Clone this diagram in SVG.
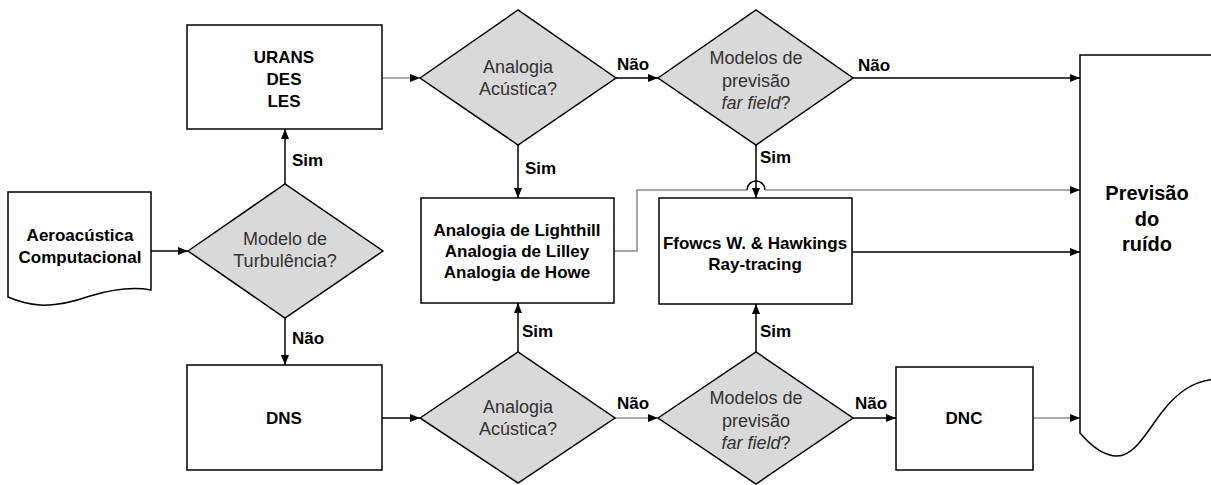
<svg xmlns="http://www.w3.org/2000/svg" width="1211" height="485" viewBox="0 0 1211 485">
<defs>
<style>
.box{fill:#fff;stroke:#000;stroke-width:1.5}
.dia{fill:#d9d9d9;stroke:#000;stroke-width:1.5}
.bt{font-family:"Liberation Sans",Arial,sans-serif;font-weight:bold;font-size:17px;fill:#000;text-anchor:middle}
.big{font-size:20px}
.dt{font-family:"Liberation Sans",Arial,sans-serif;font-size:18px;fill:#333;text-anchor:middle}
.lb{font-family:"Liberation Sans",Arial,sans-serif;font-weight:bold;font-size:17px;fill:#000}
.c{fill:none;stroke:#000;stroke-width:1.5}
.g{fill:none;stroke:#8c8c8c;stroke-width:1.5}
</style>
<marker id="ah" viewBox="0 0 10 8" refX="10" refY="4" markerWidth="10" markerHeight="8" orient="auto" markerUnits="userSpaceOnUse"><path d="M0,0 L10,4 L0,8 Z" fill="#000"/></marker>
</defs>

<g id="connectors">
<line class="c" x1="151" y1="251" x2="188" y2="251" marker-end="url(#ah)"/>
<line class="c" x1="285" y1="184" x2="285" y2="129" marker-end="url(#ah)"/>
<line class="c" x1="285" y1="318" x2="285" y2="365" marker-end="url(#ah)"/>
<line class="g" x1="382" y1="78" x2="420" y2="78" marker-end="url(#ah)"/>
<line class="c" x1="382" y1="418" x2="420" y2="418" marker-end="url(#ah)"/>
<line class="c" x1="518" y1="145" x2="518" y2="198" marker-end="url(#ah)"/>
<line class="c" x1="518" y1="352" x2="518" y2="303" marker-end="url(#ah)"/>
<line class="c" x1="616" y1="78" x2="658" y2="78" marker-end="url(#ah)"/>
<line class="g" x1="615" y1="418" x2="658" y2="418" marker-end="url(#ah)"/>
<line class="c" x1="756" y1="145" x2="756" y2="198" marker-end="url(#ah)"/>
<line class="c" x1="756" y1="352" x2="756" y2="304" marker-end="url(#ah)"/>
<line class="c" x1="853" y1="78" x2="1080" y2="78" marker-end="url(#ah)"/>
<line class="c" x1="853" y1="418" x2="896" y2="418" marker-end="url(#ah)"/>
<line class="c" x1="852" y1="252" x2="1080" y2="252" marker-end="url(#ah)"/>
<line class="g" x1="1033" y1="418" x2="1080" y2="418" marker-end="url(#ah)"/>
<path class="g" d="M614,251 H637 V190 H747"/>
<path class="c" d="M747,190 A9,9 0 0 1 765,190"/>
<line class="g" x1="765" y1="190" x2="1080" y2="190" marker-end="url(#ah)"/>
<text class="lb" x="292" y="166">Sim</text>
<text class="lb" x="292" y="344">Não</text>
<text class="lb" x="525" y="174">Sim</text>
<text class="lb" x="522" y="337">Sim</text>
<text class="lb" x="617" y="70">Não</text>
<text class="lb" x="617" y="409">Não</text>
<text class="lb" x="760" y="163">Sim</text>
<text class="lb" x="760" y="337">Sim</text>
<text class="lb" x="858" y="71">Não</text>
<text class="lb" x="855" y="409">Não</text>
</g>

<g id="aeroacustica">
<path class="box" d="M8,192 H151 V290 C130,286 110,290 90,296 C70,303 55,306 40,305 C25,304 15,300 8,297 Z"/>
<text class="bt" x="80" y="241">Aeroacústica</text>
<text class="bt" x="80" y="263">Computacional</text>
</g>

<g id="modelo-turbulencia">
<polygon class="dia" points="188,251 285,184 383,251 285,318"/>
<text class="dt" x="285" y="245">Modelo de</text>
<text class="dt" x="285" y="267">Turbulência?</text>
</g>

<g id="urans">
<rect class="box" x="187" y="25" width="195" height="104"/>
<text class="bt" x="284" y="63">URANS</text>
<text class="bt" x="284" y="85">DES</text>
<text class="bt" x="284" y="107">LES</text>
</g>

<g id="dns">
<rect class="box" x="187" y="365" width="195" height="105"/>
<text class="bt" x="284" y="424">DNS</text>
</g>

<g id="analogia-top">
<polygon class="dia" points="420,78 518,10 616,78 518,145"/>
<text class="dt" x="518" y="73">Analogia</text>
<text class="dt" x="518" y="95">Acústica?</text>
</g>

<g id="analogia-bottom">
<polygon class="dia" points="420,418 518,352 615,418 518,483"/>
<text class="dt" x="518" y="413">Analogia</text>
<text class="dt" x="518" y="435">Acústica?</text>
</g>

<g id="analogias">
<rect class="box" x="421" y="198" width="193" height="105"/>
<text class="bt" x="517" y="236">Analogia de Lighthill</text>
<text class="bt" x="517" y="257">Analogia de Lilley</text>
<text class="bt" x="517" y="278">Analogia de Howe</text>
</g>

<g id="farfield-top">
<polygon class="dia" points="658,78 756,10 853,78 756,145"/>
<text class="dt" x="756" y="64">Modelos de</text>
<text class="dt" x="756" y="87">previsão</text>
<text class="dt" x="756" y="109"><tspan font-style="italic">far field</tspan>?</text>
</g>

<g id="farfield-bottom">
<polygon class="dia" points="658,418 756,352 853,418 756,484"/>
<text class="dt" x="756" y="404">Modelos de</text>
<text class="dt" x="756" y="427">previsão</text>
<text class="dt" x="756" y="449"><tspan font-style="italic">far field</tspan>?</text>
</g>

<g id="ffowcs">
<rect class="box" x="659" y="198" width="193" height="106"/>
<text class="bt" x="755" y="249">Ffowcs W. &amp; Hawkings</text>
<text class="bt" x="755" y="270">Ray-tracing</text>
</g>

<g id="dnc">
<rect class="box" x="896" y="367" width="137" height="103"/>
<text class="bt" x="964" y="424">DNC</text>
</g>

<g id="previsao">
<path class="box" d="M1215,55 H1080 V433 C1092,447 1104,456 1117,456 C1135,456 1148,430 1162,412 C1176,394 1192,381 1215,379"/>
<text class="bt big" x="1147" y="200">Previsão</text>
<text class="bt big" x="1147" y="226">do</text>
<text class="bt big" x="1147" y="251">ruído</text>
</g>
</svg>
